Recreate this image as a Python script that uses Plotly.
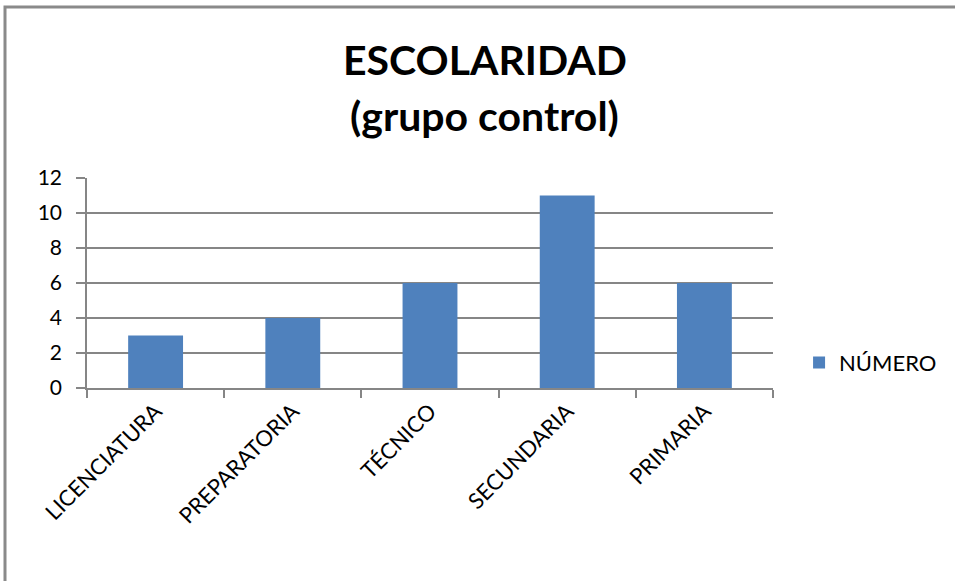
import plotly.graph_objects as go

# Datos del gráfico
categorias = ['LICENCIATURA', 'PREPARATORIA', 'TÉCNICO', 'SECUNDARIA', 'PRIMARIA']
numero = [3, 4, 6, 11, 6]
ticks_y = [0, 2, 4, 6, 8, 10, 12]
titulo = ['ESCOLARIDAD', '(grupo control)']

fuente = 'Lato, Calibri, sans-serif'
gris = '#868686'

fig = go.Figure()

# Barras
fig.add_trace(go.Bar(x=categorias, y=numero, name='NÚMERO',
                     marker=dict(color='#4F81BD', line=dict(width=0)),
                     width=0.4))

fig.update_layout(
    width=955, height=581,
    margin=dict(l=87, r=182, t=178, b=193),
    paper_bgcolor='white', plot_bgcolor='white',
    font=dict(family=fuente, color='black'),
    showlegend=True,
    legend=dict(x=1.038, y=0.12, xanchor='left', yanchor='middle',
                font=dict(size=22, family=fuente), itemwidth=30,
                bgcolor='rgba(0,0,0,0)'),
    bargap=0.6,
)

# Título en dos líneas (más separación que el <br> de plotly)
for texto, y in zip(titulo, [1.566, 1.300]):
    fig.add_annotation(text='<b>' + texto + '</b>', x=0.580, y=y, xref='paper', yref='paper',
                       xanchor='center', yanchor='middle', showarrow=False,
                       font=dict(size=41, family=fuente, color='black'))

fig.update_xaxes(type='category', tickson='boundaries', ticks='outside', ticklen=8,
                 tickcolor=gris, tickwidth=1.5, showline=True, linecolor=gris, linewidth=1.5,
                 showgrid=False, tickangle=-45, tickfont=dict(size=22, family=fuente))
fig.update_yaxes(range=[0, 12], tickvals=ticks_y, ticks='outside', ticklen=9,
                 tickcolor=gris, tickwidth=1.5, showline=True, linecolor=gris, linewidth=1.5,
                 showgrid=True, gridcolor=gris, gridwidth=1.5, zeroline=False,
                 tickfont=dict(size=21, family=fuente), ticklabelstandoff=10)

# Borde del área del gráfico
fig.add_shape(type='rect', xref='paper', yref='paper',
              x0=(5 - 87) / 686, x1=(965 - 87) / 686,
              y0=(388 - 600) / 210, y1=(388 - 7) / 210,
              line=dict(color='#8a8a8a', width=3), fillcolor='rgba(0,0,0,0)')

fig.write_html('out.html', config={'displayModeBar': False},
               post_script="document.body.style.margin='0px';")
